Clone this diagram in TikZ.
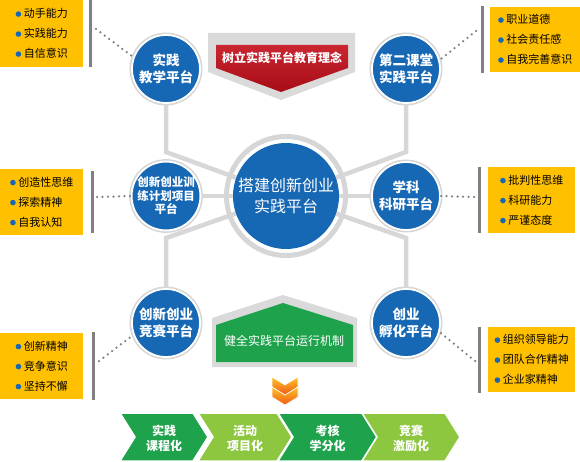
\documentclass[tikz,border=0pt]{standalone}
\usepackage{fontspec}
\setmainfont{Noto Sans CJK SC}
\usetikzlibrary{positioning,calc}

\definecolor{platblue}{RGB}{22,103,180}
\definecolor{ringgray}{RGB}{214,214,214}
\definecolor{linkgray}{RGB}{215,215,215}
\definecolor{boxyellow}{RGB}{255,192,0}
\definecolor{bargray}{RGB}{128,128,128}
\definecolor{framegray}{RGB}{218,218,218}
\definecolor{bannerred}{RGB}{196,14,26}
\definecolor{darkgreen}{RGB}{30,163,76}
\definecolor{lightgreen}{RGB}{141,198,63}
\definecolor{chevtop}{RGB}{255,196,40}
\definecolor{chevbot}{RGB}{238,88,20}

\pgfdeclarelayer{background}
\pgfsetlayers{background,main}

\newcommand{\bdot}{\tikz[baseline=-3.8pt]\fill[platblue] (0pt,0pt) circle (2.8pt);\hspace{2.5pt}}

\begin{document}
\begin{tikzpicture}[x=1pt,y=-1pt,node distance=127pt and 120pt,on grid,
    plat/.style={circle,fill=platblue,draw=white,line width=1.8pt,minimum size=68pt,inner sep=0pt,
      text=white,align=center,font=\bfseries\fontsize{13.5}{16.5}\selectfont,
      preaction={draw=ringgray,line width=5pt}},
    hub/.style={circle,fill=platblue,minimum size=106pt,inner sep=0pt,text=white,align=center,
      font=\fontsize{16}{21}\selectfont},
    infobox/.style={fill=boxyellow,anchor=north west,align=left,inner sep=0pt,
      font=\fontsize{11}{20}\selectfont},
    bar/.style={fill=bargray,minimum width=3pt,inner sep=0pt,anchor=north west},
    link/.style={draw=linkgray,line width=4.5pt},
    dots/.style={draw=bargray,line width=2.5pt,line cap=round,dash pattern=on 0pt off 5.5pt},
    flow/.style={text=white,align=center,font=\bfseries\fontsize{12}{15}\selectfont}]
    \useasboundingbox (0,0) rectangle (580,462);

    % platforms
    \node[hub]  (hub) at (286,196) {搭建创新创业\\实践平台};
    \node[plat] (tl) [above left=of hub]  {实践\\教学平台};
    \node[plat] (tr) [above right=of hub] {第二课堂\\实践平台};
    \node[plat,font=\bfseries\fontsize{11.5}{13.5}\selectfont] (ml) [left=of hub] {创新创业训\\练计划项目\\平台};
    \node[plat] (mr) [right=of hub]       {学科\\科研平台};
    \node[plat] (bl) [below left=of hub]  {创新创业\\竞赛平台};
    \node[plat] (br) [below right=of hub] {创业\\孵化平台};

    \coordinate (tlk) at (tl |- 0,152);
    \coordinate (trk) at (tr |- 0,152);
    \coordinate (blk) at (bl |- 0,238);
    \coordinate (brk) at (br |- 0,238);

    \begin{pgfonlayer}{background}
      \draw[link] (tl) -- (tlk) -- (hub.center);
      \draw[link] (tr) -- (trk) -- (hub.center);
      \draw[link] (ml) -- (hub.center);
      \draw[link] (mr) -- (hub.center);
      \draw[link] (bl) -- (blk) -- (hub.center);
      \draw[link] (br) -- (brk) -- (hub.center);
      \draw[ringgray,line width=5pt] (hub.center) circle (59.5pt);
    \end{pgfonlayer}

    % qualities
    \node[infobox,minimum width=83pt,minimum height=67pt] (tlbox) at (0,0)   {\bdot 动手能力\\\bdot 实践能力\\\bdot 自信意识};
    \node[infobox,minimum width=90pt,minimum height=65pt] (trbox) at (490,7) {\bdot 职业道德\\\bdot 社会责任感\\\bdot 自我完善意识};
    \node[infobox,minimum width=83pt,minimum height=66pt] (mlbox) at (0,169) {\bdot 创造性思维\\\bdot 探索精神\\\bdot 自我认知};
    \node[infobox,minimum width=87pt,minimum height=66pt] (mrbox) at (488,167) {\bdot 批判性思维\\\bdot 科研能力\\\bdot 严谨态度};
    \node[infobox,minimum width=83pt,minimum height=66pt] (blbox) at (0,333) {\bdot 创新精神\\\bdot 竞争意识\\\bdot 坚持不懈};
    \node[infobox,minimum width=87pt,minimum height=65pt] (brbox) at (488,327) {\bdot 组织领导能力\\\bdot 团队合作精神\\\bdot 企业家精神};

    \node[bar,minimum height=67pt] (tlbar) at (89,0)   {};
    \node[bar,minimum height=67pt] (trbar) at (481,6)  {};
    \node[bar,minimum height=62pt] (mlbar) at (91,171) {};
    \node[bar,minimum height=66pt] (mrbar) at (478,167) {};
    \node[bar,minimum height=68pt] (blbar) at (92,332) {};
    \node[bar,minimum height=66pt] (brbar) at (478,327) {};

    \coordinate (tlpin) at (96,29);
    \coordinate (trpin) at (476,31);
    \coordinate (mlpin) at (97,197);
    \coordinate (mrpin) at (474,197);
    \coordinate (blpin) at (99,361);
    \coordinate (brpin) at (475,361);

    \draw[dots] (tlpin) -- (tl.160);
    \draw[dots] (trpin) -- (tr.15);
    \draw[dots] (mlpin) -- (ml.180);
    \draw[dots] (mrpin) -- (mr.0);
    \draw[dots] (blpin) -- (bl.200);
    \draw[dots] (brpin) -- (br.345);

    % idea banner and rule plate
    \fill[framegray] (208,33) -- (355,33) -- (355,72) -- (281,100) -- (208,72) -- cycle;
    \shade[top color=bannerred!90!white,bottom color=bannerred!85!black]
      (216,45) -- (348,45) -- (348,68) -- (281,92) -- (216,68) -- cycle;
    \node[text=white,font=\bfseries\fontsize{12}{14}\selectfont] (idea) at (282,58) {树立实践平台教育理念};

    \fill[framegray] (212,318) -- (283,295) -- (357,318) -- (357,367) -- (212,367) -- cycle;
    \fill[darkgreen] (216,325) -- (283,303) -- (353,325) -- (353,362) -- (216,362) -- cycle;
    \node[text=white,font=\fontsize{12}{14}\selectfont] (rule) at (284,341) {健全实践平台运行机制};

    % down chevrons
    \foreach \dy in {0,10}
      \shade[top color=chevtop,bottom color=chevbot,draw=white,line width=0.6pt]
        (272,377+\dy) -- (285,385+\dy) -- (298,377+\dy) -- (298,387+\dy) -- (285,395+\dy) -- (272,387+\dy) -- cycle;

    % steps
    \foreach \xl/\xr/\col/\lbl [count=\i] in {120/208/darkgreen/{实践\\课程化},198/292/lightgreen/{活动\\项目化},
        278/377/darkgreen/{考核\\学分化},362/460/lightgreen/{竞赛\\激励化}} {
      \fill[\col,draw=white,line width=1.5pt] (\xl,413) -- (\xr-15,413) -- (\xr,437) -- (\xr-15,461)
        -- (\xl,461) -- (\xl+15,437) -- cycle;
      \node[flow] (step\i) at ({(\xl+\xr)/2},438) {\lbl};
    }
  \end{tikzpicture}
\end{document}
